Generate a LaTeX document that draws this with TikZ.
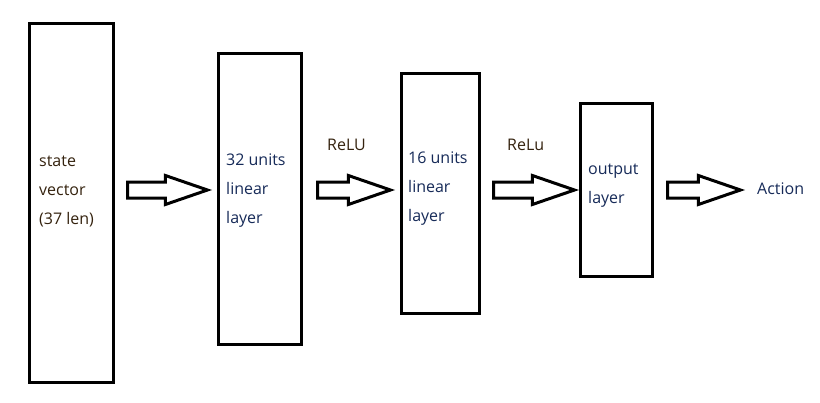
\documentclass[tikz,border=0pt]{standalone}
\usepackage{fontspec}
\setmainfont{Open Sans}
\usepackage{tikz}
\usetikzlibrary{shapes,arrows,positioning,calc}

\definecolor{layerblue}{RGB}{22,42,88}
\definecolor{inputbrown}{RGB}{52,34,14}

\begin{document}
\begin{tikzpicture}[x=1pt, y=-1pt,
    layerbox/.style={draw, line width=3pt, rectangle, inner sep=0pt},
    layertext/.style={anchor=west, align=left, inner sep=0pt, text=layerblue,
        font=\fontsize{16}{29}\selectfont},
    acttext/.style={anchor=west, inner sep=0pt, text=inputbrown,
        font=\fontsize{16}{19}\selectfont},
    blockarrow/.style={draw, line width=3pt, single arrow, inner sep=0pt,
        text height=13pt, text depth=0pt, single arrow head extend=6.5pt,
        single arrow tip angle=38, anchor=tail}]
    \useasboundingbox (0,0) rectangle (820,402);

    % layers
    \node[layerbox, minimum width=84pt, minimum height=359pt] (input) at (71,202.5) {};
    \node[layerbox, minimum width=83.5pt, minimum height=291pt] (hidden1) at (259.75,199) {};
    \node[layerbox, minimum width=78pt, minimum height=240.5pt] (hidden2) at (440.5,193.25) {};
    \node[layerbox, minimum width=71.5pt, minimum height=173pt] (output) at (616.25,190) {};

    \node[layertext, text=inputbrown] (inputlabel) at (39,191) {state\\vector\\(37 len)};
    \node[layertext] (hidden1label) at (226,191) {32 units\\linear\\layer};
    \node[layertext] (hidden2label) at (408,189) {16 units\\linear\\layer};
    \node[layertext] (outputlabel) at (588,185.5) {output\\layer};

    % block arrows between the layers
    \node[blockarrow, minimum height=80pt] (arrowA) at (126,190) {};
    \node[blockarrow, minimum height=73pt] (arrowB) at (316,190) {};
    \node[blockarrow, minimum height=81pt] (arrowC) at (492,190) {};
    \node[blockarrow, minimum height=73pt] (arrowD) at (666,190) {};

    \node[acttext] (reluA) at (327,145) {ReLU};
    \node[acttext] (reluB) at (507,145) {ReLu};
    \node[acttext, text=layerblue] (action) at (757,189) {Action};
\end{tikzpicture}
\end{document}
